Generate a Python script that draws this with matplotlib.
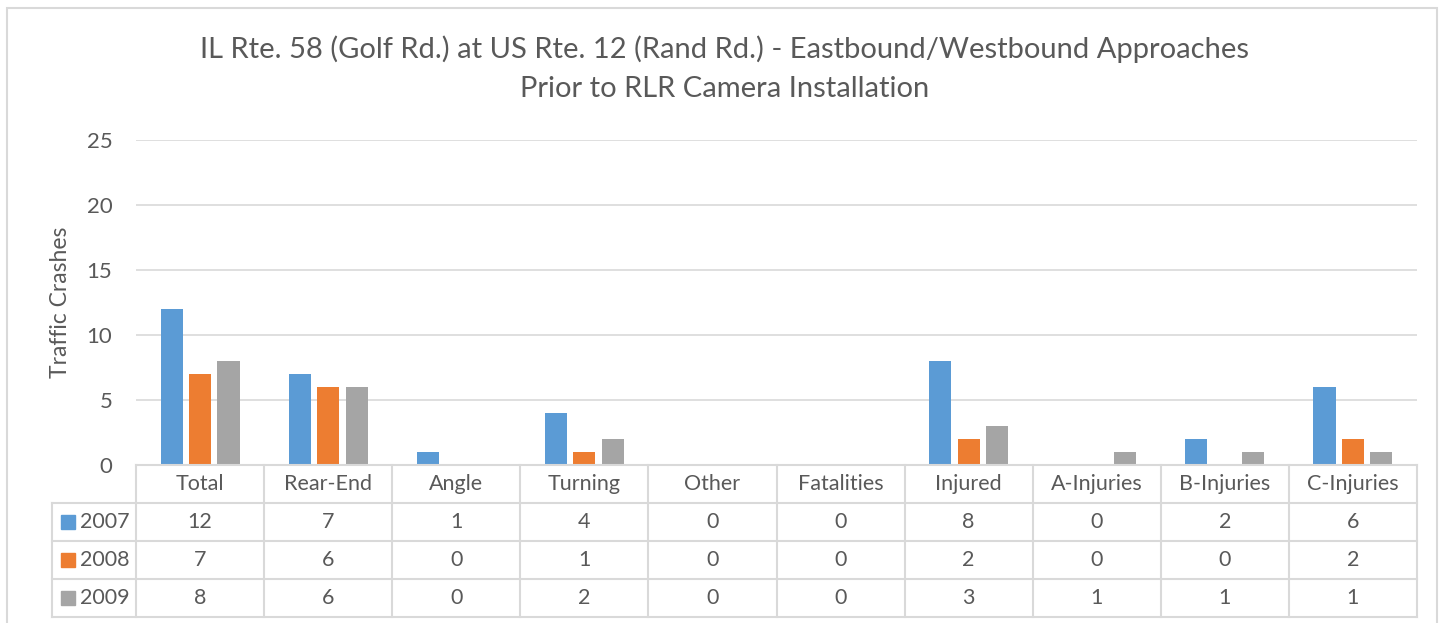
import matplotlib
matplotlib.use("Agg")
import matplotlib.pyplot as plt
import numpy as np
from matplotlib.patches import Rectangle

plt.rcParams["font.family"] = ["Lato", "DejaVu Sans"]

CATEGORIAS = ["Total", "Rear-End", "Angle", "Turning", "Other", "Fatalities",
              "Injured", "A-Injuries", "B-Injuries", "C-Injuries"]
ANIOS = ["2007", "2008", "2009"]
V2007 = [12, 7, 1, 4, 0, 0, 8, 0, 2, 6]
V2008 = [7, 6, 0, 1, 0, 0, 2, 0, 0, 2]
V2009 = [8, 6, 0, 2, 0, 0, 3, 1, 1, 1]
COLORES = ["#5B9BD5", "#ED7D31", "#A5A5A5"]
YTICKS = [0, 5, 10, 15, 20, 25]

TITULO = ("IL Rte. 58 (Golf Rd.) at US Rte. 12 (Rand Rd.) - Eastbound/Westbound Approaches\n"
          "Prior to RLR Camera Installation")

W, H = 1450, 623
TXT = "#595959"
LINEA = "#D9D9D9"
FS = 15.5


def px_rect(x0, y0, x1, y1):
    # rectangulo en pixeles (origen arriba-izquierda) -> coords de figura
    return [x0 / W, 1 - y1 / H, (x1 - x0) / W, (y1 - y0) / H]


fig = plt.figure(figsize=(W / 100, H / 100), dpi=100)
fig.patches.append(Rectangle((7 / W, -0.1), (1437 - 7) / W, 1.1 - 8 / H,
                             transform=fig.transFigure, fill=False,
                             edgecolor=LINEA, linewidth=1.5))

fig.text(0.5, 1 - 69 / H, TITULO, ha="center", va="center", fontsize=21,
         color=TXT, linespacing=1.62)

# grafico de barras
ax = fig.add_axes(px_rect(136, 140, 1417, 465))
series = [V2007, V2008, V2009]
x = np.arange(len(CATEGORIAS)) + 0.5
for k, vals in enumerate(series):
    ax.bar(x + (k - 1) * 0.222, vals, width=0.172, color=COLORES[k], zorder=3)
ax.set_xlim(0, 10)
ax.set_ylim(0, 25)
ax.set_yticks(YTICKS)
ax.set_yticklabels([str(t) for t in YTICKS], fontsize=16, color=TXT)
ax.tick_params(axis="y", length=0, pad=17)
ax.set_xticks([])
ax.grid(True, axis="y", color=LINEA, linewidth=1.2, zorder=0)
for s in ax.spines.values():
    s.set_visible(False)
ax.set_ylabel("Traffic Crashes", fontsize=16.5, color=TXT, labelpad=11)

# tabla de datos
col_izq = -84 / 128.1
tb = fig.add_axes(px_rect(52, 465, 1417, 617))
tb.set_xlim(col_izq, 10)
tb.set_ylim(4, 0)
tb.axis("off")
lw = 1.5
tb.plot([0, 10], [0, 0], color=LINEA, lw=lw, clip_on=False)
for r in range(1, 5):
    tb.plot([col_izq, 10], [r, r], color=LINEA, lw=lw, clip_on=False)
tb.plot([col_izq, col_izq], [1, 4], color=LINEA, lw=lw, clip_on=False)
for c in range(11):
    tb.plot([c, c], [0, 4], color=LINEA, lw=lw, clip_on=False)

for i, cat in enumerate(CATEGORIAS):
    tb.text(i + 0.5, 0.5, cat, ha="center", va="center", fontsize=FS, color=TXT)
for k, (anio, vals) in enumerate(zip(ANIOS, series)):
    y = k + 1.5
    tb.plot([(68 - 136) / 128.1], [y], marker="s", markersize=10, color=COLORES[k],
            linestyle="none", clip_on=False)
    tb.text((80 - 136) / 128.1, y, anio, ha="left", va="center", fontsize=FS, color=TXT)
    for i, v in enumerate(vals):
        tb.text(i + 0.5, y, str(v), ha="center", va="center", fontsize=FS, color=TXT)

fig.savefig("out.png", dpi=100)
